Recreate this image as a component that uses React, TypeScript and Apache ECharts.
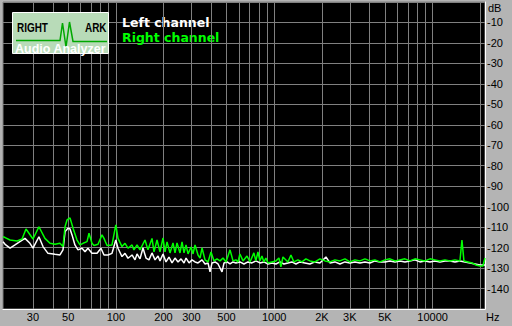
import React, { useEffect, useRef } from 'react';
import * as echarts from 'echarts';

const seriesNames = ['Left channel', 'Right channel'];

const leftFreq = [
  19.4, 20, 21.5, 23.1, 24.8, 26.7, 28.7, 30, 32.7, 34.7,
  37.3, 41.3, 44.4, 46.4, 47.8, 49.9, 51.4, 52.9, 55.2, 57.7,
  61.2, 63.9, 66.7, 70.7, 76.1, 80.6, 84.2, 89.3, 94.6, 100,
  103.2, 109.4, 114.3, 119.4, 126.6, 132.2, 136.1, 142.1, 148.4, 155.1,
  162, 169.2, 176.8, 184.7, 190, 198.6, 207.4, 216.6, 226.3, 236.4,
  247, 258, 269.5, 277.5, 289.8, 302.7, 316.3, 330.3, 350.1, 365.7,
  382, 393.3, 404.8, 422.8, 441.7, 468.1, 482, 503.5, 526, 549.4,
  573, 607, 644, 682, 723, 766, 812, 861, 913, 967,
  1025, 1086, 1151, 1220, 1293, 1371, 1453, 1562, 1680, 1807,
  1943, 2121, 2247, 2416, 2599, 2795, 3005, 3232, 3475, 3737,
  4019, 4322, 4648, 4998, 5375, 5781, 6216, 6685, 7189, 7731,
  8314, 8941, 9616, 10340, 11120, 11960, 12860, 13830, 14870, 15990,
  17200, 18490, 19890, 21400,
];
const leftDb = [
  -117.1, -118.4, -120.3, -118.7, -117.1, -115.5, -117.9, -120.3, -114.7, -119.5,
  -122.8, -123.3, -123.6, -121.1, -112.2, -110.5, -110.9, -113.8, -118.7, -121.1,
  -120.3, -122.0, -120.3, -122.8, -122.8, -120.3, -123.6, -123.6, -122.8, -116.3,
  -120.3, -124.4, -122.8, -125.2, -123.6, -126.0, -123.1, -125.5, -120.2, -125.1,
  -126.0, -122.6, -126.0, -124.1, -126.5, -123.1, -127.0, -124.6, -127.5, -125.1,
  -127.0, -125.5, -127.5, -125.1, -127.5, -126.0, -127.0, -127.5, -126.0, -128.0,
  -127.5, -131.9, -127.5, -127.0, -128.0, -131.9, -127.5, -127.0, -128.0, -127.0,
  -127.5, -127.0, -128.0, -127.0, -127.5, -126.5, -127.5, -127.0, -128.0, -127.5,
  -128.0, -127.0, -128.0, -127.5, -127.0, -128.0, -127.0, -127.5, -128.0, -127.0,
  -127.5, -124.6, -127.5, -127.0, -128.0, -127.0, -127.5, -127.0, -127.5, -127.0,
  -127.5, -126.5, -127.0, -127.0, -126.5, -127.0, -126.5, -127.0, -126.5, -126.0,
  -127.0, -126.5, -127.0, -126.5, -127.0, -126.5, -126.5, -127.0, -126.5, -127.0,
  -127.5, -128.0, -128.5, -128.5,
];

const rightFreq = [
  19.4, 20, 21.5, 23.8, 25.6, 27.1, 30, 32.7, 35.7, 38.4,
  41.3, 44.4, 46.4, 47.8, 49.2, 51.4, 53.7, 56.9, 59.4, 62.1,
  65.8, 67.7, 70.7, 72.8, 77.2, 81.8, 84.2, 88, 94.6, 100,
  103.2, 109.4, 114.3, 119.4, 126.6, 130.2, 136.1, 142.1, 152.8, 159.6,
  169.2, 174.2, 182, 190, 198.6, 204.4, 210.5, 219.8, 229.6, 236.4,
  243.4, 254.2, 261.8, 269.5, 277.5, 285.7, 298.4, 307.2, 316.3, 330.3,
  340.1, 350.1, 365.7, 382, 398.9, 416.7, 435.3, 454.8, 475, 496.2,
  526, 549.4, 573, 590.7, 607, 635.2, 673.2, 703.2, 744, 766,
  789, 812, 836, 861, 886, 913, 967, 1025, 1071, 1102,
  1135, 1220, 1275, 1331, 1411, 1496, 1585, 1680, 1807, 1943,
  2090, 2247, 2416, 2599, 2795, 3005, 3232, 3475, 3737, 4019,
  4322, 4648, 4998, 5375, 5781, 6216, 6685, 7189, 7731, 8314,
  8941, 9616, 10340, 11120, 11960, 12860, 13830, 14870, 15310, 15760,
  16710, 17710, 18770, 19890, 20780, 21400,
];
const rightDb = [
  -114.7, -115.1, -116.3, -116.8, -115.8, -110.9, -115.8, -109.8, -115.5, -117.9,
  -118.4, -117.9, -119.5, -109.8, -106.5, -105.5, -110.5, -116.3, -118.7, -117.9,
  -117.1, -113.0, -117.9, -119.0, -118.4, -113.8, -115.5, -119.0, -118.7, -108.9,
  -115.5, -119.5, -117.9, -120.3, -118.7, -121.1, -118.7, -121.1, -116.3, -121.1,
  -115.5, -122.1, -116.3, -122.1, -115.3, -122.1, -117.2, -122.6, -117.7, -122.6,
  -117.7, -122.6, -117.2, -122.6, -118.7, -123.1, -119.7, -123.1, -118.7, -123.6,
  -125.1, -120.2, -126.0, -127.0, -122.1, -126.5, -125.5, -126.5, -125.1, -127.0,
  -121.1, -126.5, -126.0, -127.0, -123.1, -126.5, -124.1, -127.0, -122.6, -126.5,
  -122.1, -126.5, -124.1, -127.0, -125.1, -127.5, -127.0, -126.5, -125.1, -129.4,
  -124.6, -127.0, -123.6, -127.0, -126.0, -127.0, -125.5, -126.5, -127.0, -125.5,
  -126.5, -127.0, -126.0, -126.5, -125.5, -127.0, -126.0, -126.5, -125.5, -126.5,
  -126.0, -127.0, -126.0, -125.5, -126.5, -126.0, -125.5, -126.5, -125.5, -126.0,
  -126.5, -125.5, -126.0, -126.5, -126.0, -126.5, -126.0, -126.5, -116.3, -126.5,
  -127.0, -127.5, -128.5, -129.0, -129.0, -125.1,
];

const gridFreqs = [
  30, 40, 50, 60, 70, 80, 90, 100, 200, 300, 400, 500, 600, 700, 800, 900,
  1000, 2000, 3000, 4000, 5000, 6000, 7000, 8000, 9000, 10000, 20000,
];
const labelFreqs = [30, 50, 100, 200, 300, 500, 1000, 2000, 3000, 5000, 10000];
const labelTexts = ['30', '50', '100', '200', '300', '500', '1000', '2K', '3K', '5K', '10000'];

const freqMin = 19.4;
const freqMax = 21400;
const dbMin = -150;
const dbMax = 0;
const dbStep = 10;

const tickFont = 'Liberation Sans, Arial, sans-serif';

export default function App() {
  const ref = useRef<HTMLDivElement>(null);

  useEffect(() => {
    if (!ref.current) return;
    const chart = echarts.init(ref.current, undefined, { renderer: 'svg' });

    const gridMarks = gridFreqs.map((f) => {
      const i = labelFreqs.indexOf(f);
      return {
        xAxis: f,
        label: i >= 0 ? { show: true, formatter: labelTexts[i] } : { show: false },
      };
    });

    chart.setOption({
      animation: false,
      backgroundColor: '#b4b4b4',
      grid: {
        left: 3,
        top: 2,
        right: 27,
        bottom: 17,
        show: true,
        backgroundColor: '#000000',
        borderColor: '#808080',
        borderWidth: 1,
      },
      legend: {
        orient: 'vertical',
        left: 112,
        top: 10,
        icon: 'none',
        itemWidth: 0,
        itemHeight: 14,
        itemGap: 2,
        selectedMode: false,
        textStyle: { fontFamily: 'DejaVu Sans', fontWeight: 'bold', fontSize: 12.5 },
        data: [
          { name: seriesNames[0], textStyle: { color: '#ffffff' } },
          { name: seriesNames[1], textStyle: { color: '#00ff00' } },
        ],
      },
      xAxis: {
        type: 'log',
        logBase: 10,
        min: freqMin,
        max: freqMax,
        axisLine: { show: true, onZero: false, lineStyle: { color: '#ffffff', width: 1 } },
        axisTick: { show: false },
        axisLabel: { show: false },
        splitLine: { show: false },
      },
      yAxis: {
        type: 'value',
        position: 'right',
        min: dbMin,
        max: dbMax,
        interval: dbStep,
        axisLine: { show: true, lineStyle: { color: '#ffffff', width: 1 } },
        axisTick: { show: false },
        axisLabel: {
          color: '#000000',
          fontSize: 11,
          fontFamily: tickFont,
          margin: 2,
          formatter: (v: number) => (v === dbMax || v === dbMin ? '' : String(v)),
        },
        splitLine: { show: true, lineStyle: { color: '#808080', width: 1 } },
      },
      graphic: [
        {
          type: 'text',
          x: 488,
          y: 2,
          z: 100,
          style: { text: 'dB', fill: '#000', fontSize: 11, fontFamily: tickFont, verticalAlign: 'top' },
        },
        {
          type: 'text',
          x: 486,
          y: 311,
          z: 100,
          style: { text: 'Hz', fill: '#000', fontSize: 11, fontFamily: tickFont, verticalAlign: 'top' },
        },
        {
          type: 'rect',
          z: 100,
          shape: { x: 12.5, y: 12.5, width: 96, height: 41 },
          style: { fill: '#b8dbb8', stroke: '#ffffff', lineWidth: 1 },
        },
        {
          type: 'polyline',
          z: 101,
          shape: {
            points: [
              [16, 40.5], [60, 40.5], [62.5, 23], [66, 47], [69.5, 22], [73, 41.5], [107, 41.5],
            ],
          },
          style: { stroke: '#00a800', lineWidth: 1.5, fill: null },
        },
        {
          type: 'text',
          x: 17,
          y: 22,
          z: 102,
          scaleX: 0.83,
          style: {
            text: 'RIGHT', fill: '#000', fontSize: 12, fontWeight: 'bold',
            fontFamily: 'Liberation Sans', verticalAlign: 'top',
          },
        },
        {
          type: 'text',
          x: 85,
          y: 22,
          z: 102,
          scaleX: 0.83,
          style: {
            text: 'ARK', fill: '#000', fontSize: 12, fontWeight: 'bold',
            fontFamily: 'Liberation Sans', verticalAlign: 'top',
          },
        },
        {
          type: 'text',
          x: 15,
          y: 42,
          z: 102,
          style: {
            text: 'Audio Analyzer', fill: '#ffffff', fontSize: 12.5, fontWeight: 'bold',
            fontFamily: 'Liberation Sans', verticalAlign: 'top',
            textShadowColor: '#6a8a6a', textShadowOffsetX: 1, textShadowOffsetY: 1, textShadowBlur: 0,
          },
        },
      ],
      series: [
        {
          type: 'line',
          name: '__grid',
          data: [],
          z: 1,
          markLine: {
            silent: true,
            symbol: 'none',
            animation: false,
            lineStyle: { color: '#808080', width: 1, type: 'solid' },
            emphasis: { disabled: true },
            label: {
              show: false,
              position: 'start',
              color: '#000',
              fontSize: 11,
              fontFamily: tickFont,
              distance: 2,
            },
            data: gridMarks,
          },
        },
        {
          type: 'line',
          name: seriesNames[0],
          data: leftFreq.map((f, i) => [f, leftDb[i]]),
          showSymbol: false,
          symbol: 'none',
          z: 10,
          lineStyle: { color: '#ffffff', width: 1.5 },
          itemStyle: { color: '#ffffff' },
        },
        {
          type: 'line',
          name: seriesNames[1],
          data: rightFreq.map((f, i) => [f, rightDb[i]]),
          showSymbol: false,
          symbol: 'none',
          z: 11,
          lineStyle: { color: '#00ff00', width: 1.5 },
          itemStyle: { color: '#00ff00' },
        },
      ],
    });

    return () => chart.dispose();
  }, []);

  return (
    <div
      ref={ref}
      style={{ position: 'fixed', left: 0, top: 0, width: 512, height: 326 }}
    />
  );
}
